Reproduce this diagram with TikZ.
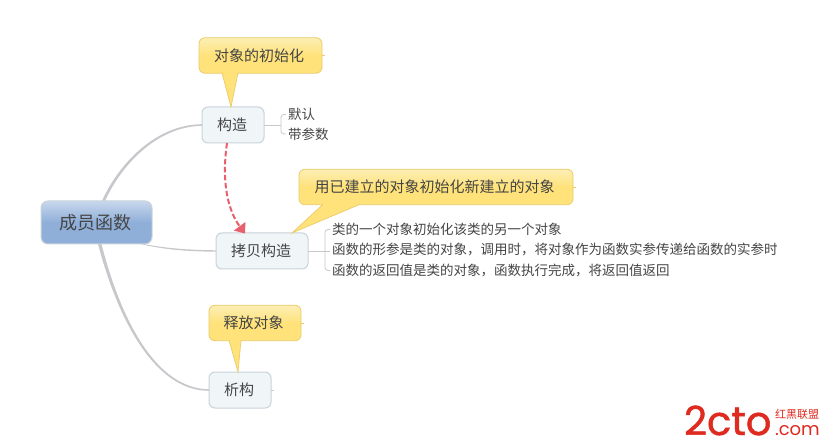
\documentclass[tikz,border=0pt]{standalone}
\usepackage{fontspec}
\setmainfont{Noto Sans CJK SC}
\newfontfamily\logofont[FakeBold=1.2]{Poppins}
\newfontfamily\logothin{Poppins}
\newfontfamily\logocjk{Noto Sans CJK SC}
\usetikzlibrary{arrows.meta}
\definecolor{tx}{HTML}{454545}
\definecolor{linegray}{HTML}{C8C8CC}
\definecolor{boxline}{HTML}{C9D3DA}
\definecolor{yline}{HTML}{EBCB6A}
\definecolor{yfill}{HTML}{FFE27A}
\definecolor{ytop}{HTML}{FCEFB5}
\definecolor{dashred}{HTML}{E8606C}
\definecolor{logored}{HTML}{DF2A20}
\definecolor{rootlow}{HTML}{8FAFD9}
\definecolor{roottop}{HTML}{C8D7EC}
\definecolor{subfill}{HTML}{F0F6F8}
\pgfdeclareverticalshading{rootshade}{100bp}{color(0bp)=(rootlow);color(50bp)=(rootlow);color(75bp)=(roottop);color(100bp)=(roottop)}
\pgfdeclareverticalshading{yellowshade}{100bp}{color(0bp)=(yfill);color(50bp)=(yfill);color(75bp)=(ytop);color(100bp)=(ytop)}
\tikzset{
  x=1pt,y=-1pt,
  every node/.style={inner sep=0pt,outer sep=0pt,text=tx},
  rootbox/.style={draw=boxline,line width=1pt,rounded corners=7pt,shading=rootshade,minimum width=111pt,minimum height=43pt,font=\fontsize{18}{20}\selectfont},
  subbox/.style={draw=boxline,line width=1pt,rounded corners=6pt,fill=subfill,minimum height=36pt,font=\fontsize{15}{18}\selectfont},
  callbox/.style={draw=yline,line width=.8pt,rounded corners=6pt,shading=yellowshade,minimum height=35.5pt,font=\fontsize{15}{18}\selectfont},
  leaf/.style={anchor=west,font=\fontsize{13.5}{16}\selectfont},
  branch/.style={fill=linegray},
  stub/.style={draw=linegray,line width=.8pt},
  ystub/.style={draw=yline,line width=.8pt},
  bracket/.style={draw=linegray,line width=.8pt,rounded corners=3pt},
  tipfill/.style={fill=yfill},
  tipedge/.style={draw=yline,line width=.7pt},
  relation/.style={draw=dashred,line width=2pt,dash pattern=on 5.5pt off 2.5pt,-{Triangle[length=9pt,width=14pt,fill=dashred]}},
}
\begin{document}
\begin{tikzpicture}
\useasboundingbox (0,0) rectangle (822,446);
\fill[white] (0,0) rectangle (822,446);
% invisible anchors so that the branches lie behind the boxes
\node[minimum width=111pt,minimum height=43pt] (root) at (96.5,222.5) {};
\node[minimum width=62pt,minimum height=36pt] (gz) at (233,125) {};
\node[minimum width=92pt,minimum height=36pt] (kb) at (262,251) {};
\node[minimum width=62pt,minimum height=36pt] (xg) at (240,390) {};
\fill[branch] ([xshift=5.5pt]root.north) .. controls (118,165) and (155,124.5) .. ([yshift=.8pt]gz.west) -- ([yshift=-.8pt]gz.west) .. controls (156,126.5) and (120.5,166.5) .. ([xshift=8.5pt]root.north) -- cycle;
\fill[branch] ([xshift=44pt]root.south) .. controls (165,250) and (190,251.5) .. ([yshift=-.7pt]kb.west) -- ([yshift=.7pt]kb.west) .. controls (190,250) and (167,248.5) .. ([xshift=47pt]root.south) -- cycle;
\fill[branch] ([xshift=1.5pt]root.south) .. controls (118,320) and (155,391) .. ([yshift=-.8pt]xg.west) -- ([yshift=.8pt]xg.west) .. controls (156,389) and (120.5,319) .. ([xshift=5pt]root.south) -- cycle;
% boxes
\node[callbox,minimum width=123pt] (ca) at (260.5,55.5) {对象的初始化\kern3pt};
\node[callbox,minimum width=274pt] (cb) at (436,187) {用已建立的对象初始化新建立的对象\kern3pt};
\node[callbox,minimum width=92pt] (cc) at (255,323) {释放对象\kern3pt};
\node[rootbox] (rootv) at (root.center) {成员函数\kern2pt};
\node[subbox,minimum width=62pt] (gzv) at (gz.center) {构造\kern2pt};
\node[subbox,minimum width=92pt] (kbv) at (kb.center) {拷贝构造\kern2pt};
\node[subbox,minimum width=62pt] (xgv) at (xg.center) {析构\kern2pt};
% tips
\coordinate (ta1) at ([xshift=-38.5pt,yshift=.5pt]ca.south);
\coordinate (ta2) at ([xshift=-22.5pt,yshift=.5pt]ca.south);
\coordinate (ta3) at ([xshift=-2pt]gz.north);
\fill[tipfill] (ta1) -- (ta3) -- (ta2) -- cycle;
\draw[tipedge] (ta1) -- (ta3) -- (ta2);
\coordinate (tb1) at ([xshift=-113pt,yshift=.5pt]cb.south);
\coordinate (tb2) at ([xshift=-76pt,yshift=.5pt]cb.south);
\coordinate (tb3) at ([xshift=30pt]kb.north);
\fill[tipfill] (tb1) -- (tb3) -- (tb2) -- cycle;
\draw[tipedge] (tb1) -- (tb3) -- (tb2);
\coordinate (tc1) at ([xshift=-26pt,yshift=.5pt]cc.south);
\coordinate (tc2) at ([xshift=-14pt,yshift=.5pt]cc.south);
\coordinate (tc3) at ([xshift=-2pt]xg.north);
\fill[tipfill] (tc1) -- (tc3) -- (tc2) -- cycle;
\draw[tipedge] (tc1) -- (tc3) -- (tc2);
% stubs at right of bubbles and boxes
\coordinate (sa) at ([xshift=3pt]ca.east); \draw[ystub] (ca.east) -- (sa);
\coordinate (sb) at ([xshift=3pt]cb.east); \draw[ystub] (cb.east) -- (sb);
\coordinate (sc) at ([xshift=3pt]cc.east); \draw[ystub] (cc.east) -- (sc);
\coordinate (sx) at ([xshift=3pt]xg.east); \draw[stub] (xg.east) -- (sx);
% leaves
\node[leaf] (l1) at (288,114.5) {默认};
\node[leaf] (l2) at (288,134) {带参数};
\node[leaf] (m1) at (332,229.5) {类的一个对象初始化该类的另一个对象};
\node[leaf] (m2) at (332,250) {函数的形参是类的对象，调用时，将对象作为函数实参传递给函数的实参时};
\node[leaf] (m3) at (332,270.5) {函数的返回值是类的对象，函数执行完成，将返回值返回};
\coordinate (bg) at (281,125);
\draw[stub] (gz.east) -- (bg);
\draw[bracket] ([xshift=-2pt]l1.west) -| (bg) |- ([xshift=-2pt]l2.west);
\coordinate (bk) at (325,251);
\draw[stub] (kb.east) -- ([xshift=5pt]bk);
\draw[bracket] ([xshift=-2pt]m1.west) -| (bk) |- ([xshift=-2pt]m3.west);
% dashed relation
\draw[relation] ([xshift=-6pt]gz.south) .. controls (221,185) and (229,212) .. ([xshift=-17pt,yshift=-.5pt]kb.north);
% logo
\node[anchor=base west,text=logored,font=\logofont\fontsize{40}{40}\selectfont] (logoa) at (684,435) {2cto};
\node[anchor=base west,text=logored,font=\logothin\fontsize{18}{18}\selectfont] (logob) at (775,435) {.com};
\node[anchor=base west,text=logored,font=\logocjk\fontsize{11}{11}\selectfont] (logoc) at (775,418) {红黑联盟};
\end{tikzpicture}
\end{document}
